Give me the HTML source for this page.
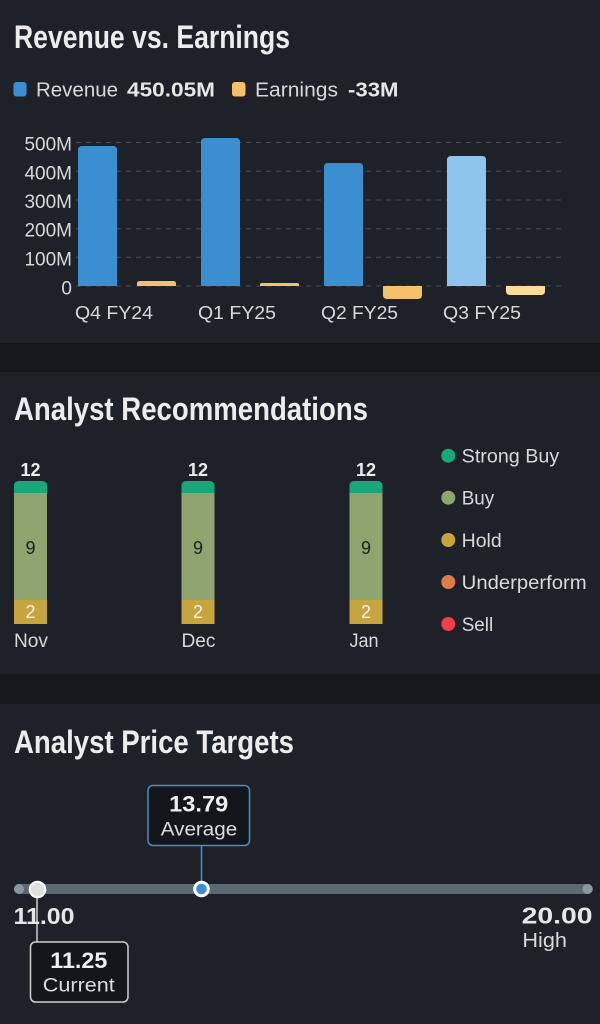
<!DOCTYPE html>
<html><head><meta charset="utf-8"><style>
html,body{margin:0;padding:0;background:#15181d;}
svg{display:block;}
text{font-family:"Liberation Sans",sans-serif;}
</style></head><body>
<svg width="600" height="1024" viewBox="0 0 600 1024" xmlns="http://www.w3.org/2000/svg">
<rect x="0" y="0" width="600" height="1024" fill="#15181d"/>
<rect x="0" y="0" width="600" height="343" fill="#1e2128"/>
<rect x="0" y="372" width="600" height="302" fill="#1e2128"/>
<rect x="0" y="704" width="600" height="320" fill="#1e2128"/>

<!-- Panel 1 -->
<text x="14" y="48" font-size="32" font-weight="bold" fill="#ececec" textLength="276" lengthAdjust="spacingAndGlyphs">Revenue vs. Earnings</text>
<rect x="13.5" y="82" width="13" height="14.5" rx="3" fill="#3b8fd0"/>
<text x="36" y="96.7" font-size="20" fill="#d9d9d9" textLength="82" lengthAdjust="spacingAndGlyphs">Revenue</text>
<text x="127" y="96.7" font-size="20" font-weight="bold" fill="#e6e6e6" textLength="88" lengthAdjust="spacingAndGlyphs">450.05M</text>
<rect x="232" y="82" width="13.5" height="14.5" rx="3" fill="#f4c06a"/>
<text x="255" y="96.7" font-size="20" fill="#d9d9d9" textLength="83" lengthAdjust="spacingAndGlyphs">Earnings</text>
<text x="348" y="96.7" font-size="20" font-weight="bold" fill="#e6e6e6" textLength="50.5" lengthAdjust="spacingAndGlyphs">-33M</text>

<g stroke="#474c55" stroke-width="1" stroke-dasharray="5 5">
<line x1="76" y1="142.5" x2="566" y2="142.5"/>
<line x1="76" y1="171.2" x2="566" y2="171.2"/>
<line x1="76" y1="200" x2="566" y2="200"/>
<line x1="76" y1="228.7" x2="566" y2="228.7"/>
<line x1="76" y1="257.3" x2="566" y2="257.3"/>
<line x1="76" y1="286" x2="566" y2="286"/>
</g>
<g font-size="19" fill="#d9d9d9" text-anchor="end">
<text x="72" y="150.7">500M</text>
<text x="72" y="179.3">400M</text>
<text x="72" y="208">300M</text>
<text x="72" y="236.7">200M</text>
<text x="72" y="265.3">100M</text>
<text x="72" y="294.3">0</text>
</g>

<!-- revenue bars -->
<path d="M78,286 V150 Q78,146 82,146 H113 Q117,146 117,150 V286 Z" fill="#3b8fd0"/>
<path d="M201,286 V142 Q201,138 205,138 H236 Q240,138 240,142 V286 Z" fill="#3b8fd0"/>
<path d="M324,286 V167 Q324,163 328,163 H359 Q363,163 363,167 V286 Z" fill="#3b8fd0"/>
<path d="M447,286 V160 Q447,156 451,156 H482 Q486,156 486,160 V286 Z" fill="#8ec5ec"/>
<!-- earnings bars -->
<path d="M137,286 V283.5 Q137,281 140,281 H173 Q176,281 176,283.5 V286 Z" fill="#f4c06a"/>
<path d="M260,286 V284.5 Q260,283 262,283 H297 Q299,283 299,284.5 V286 Z" fill="#f4c06a"/>
<path d="M383,286 V295 Q383,299 387,299 H418 Q422,299 422,295 V286 Z" fill="#f4c06a"/>
<path d="M506,286 V291 Q506,295 510,295 H541 Q545,295 545,291 V286 Z" fill="#fddb9c"/>

<g font-size="18.5" fill="#d9d9d9">
<text x="75" y="319" textLength="78" lengthAdjust="spacingAndGlyphs">Q4  FY24</text>
<text x="198" y="319" textLength="78" lengthAdjust="spacingAndGlyphs">Q1  FY25</text>
<text x="321" y="319" textLength="77" lengthAdjust="spacingAndGlyphs">Q2  FY25</text>
<text x="443" y="319" textLength="78" lengthAdjust="spacingAndGlyphs">Q3  FY25</text>
</g>

<!-- Panel 2 -->
<text x="14" y="420" font-size="32" font-weight="bold" fill="#ececec" textLength="354" lengthAdjust="spacingAndGlyphs">Analyst Recommendations</text>

<g>
<path d="M14,493 V486 Q14,481 19,481 H42 Q47,481 47,486 V493 Z" fill="#1aa779"/>
<rect x="14" y="493" width="33" height="107" fill="#8fa46f"/>
<rect x="14" y="600" width="33" height="24" fill="#c6a43e"/>
<path d="M181.5,493 V486 Q181.5,481 186.5,481 H209.5 Q214.5,481 214.5,486 V493 Z" fill="#1aa779"/>
<rect x="181.5" y="493" width="33" height="107" fill="#8fa46f"/>
<rect x="181.5" y="600" width="33" height="24" fill="#c6a43e"/>
<path d="M349.5,493 V486 Q349.5,481 354.5,481 H377.5 Q382.5,481 382.5,486 V493 Z" fill="#1aa779"/>
<rect x="349.5" y="493" width="33" height="107" fill="#8fa46f"/>
<rect x="349.5" y="600" width="33" height="24" fill="#c6a43e"/>
</g>
<g font-size="18" text-anchor="middle">
<text x="30.5" y="476" font-weight="bold" fill="#ececec">12</text>
<text x="198" y="476" font-weight="bold" fill="#ececec">12</text>
<text x="366" y="476" font-weight="bold" fill="#ececec">12</text>
<text x="30.5" y="554" fill="#1c1f22">9</text>
<text x="198" y="554" fill="#1c1f22">9</text>
<text x="366" y="554" fill="#1c1f22">9</text>
<text x="30.5" y="618" fill="#f2f2f2">2</text>
<text x="198" y="618" fill="#f2f2f2">2</text>
<text x="366" y="618" fill="#f2f2f2">2</text>
</g>
<g font-size="19" fill="#d9d9d9">
<text x="14" y="647" textLength="34" lengthAdjust="spacingAndGlyphs">Nov</text>
<text x="181.5" y="647" textLength="34" lengthAdjust="spacingAndGlyphs">Dec</text>
<text x="349.5" y="647" textLength="29" lengthAdjust="spacingAndGlyphs">Jan</text>
</g>

<circle cx="448.3" cy="455.7" r="7" fill="#1aa779"/>
<circle cx="448.3" cy="497.7" r="7" fill="#8fa46f"/>
<circle cx="448.3" cy="540" r="7" fill="#c6a43e"/>
<circle cx="448.3" cy="582" r="7" fill="#e07b4c"/>
<circle cx="448.3" cy="624" r="7" fill="#f0404a"/>
<g font-size="19" fill="#d9d9d9">
<text x="461.7" y="462.7" textLength="97.5" lengthAdjust="spacingAndGlyphs">Strong Buy</text>
<text x="461.7" y="504.7" textLength="32.5" lengthAdjust="spacingAndGlyphs">Buy</text>
<text x="461.7" y="547" textLength="40" lengthAdjust="spacingAndGlyphs">Hold</text>
<text x="461.7" y="589" textLength="125" lengthAdjust="spacingAndGlyphs">Underperform</text>
<text x="461.7" y="631" textLength="31.5" lengthAdjust="spacingAndGlyphs">Sell</text>
</g>

<!-- Panel 3 -->
<text x="14" y="753" font-size="32" font-weight="bold" fill="#ececec" textLength="280" lengthAdjust="spacingAndGlyphs">Analyst Price Targets</text>

<rect x="14" y="884" width="579" height="10" rx="5" fill="#5e6873"/>
<circle cx="19" cy="889" r="5" fill="#8d97a1"/>
<circle cx="587.5" cy="889" r="5" fill="#8d97a1"/>

<line x1="201.5" y1="846" x2="201.5" y2="882" stroke="#3b8fd0" stroke-width="1.6"/>
<rect x="148" y="785.5" width="101.5" height="60" rx="5" fill="#13161b" stroke="#4a8cc4" stroke-width="1.5"/>
<text x="198.7" y="811.7" font-size="22" font-weight="bold" fill="#eeeeee" text-anchor="middle" textLength="59" lengthAdjust="spacingAndGlyphs">13.79</text>
<text x="199" y="835.5" font-size="19" fill="#dddddd" text-anchor="middle" textLength="76.5" lengthAdjust="spacingAndGlyphs">Average</text>
<circle cx="201.5" cy="889" r="8.3" fill="#ffffff"/>
<circle cx="201.5" cy="889" r="5.3" fill="#3b8fd0"/>

<line x1="37" y1="897" x2="37" y2="942" stroke="#cfcfcf" stroke-width="1.5"/>
<text x="13.5" y="924" font-size="23" font-weight="bold" fill="#e6e6e6" textLength="61" lengthAdjust="spacingAndGlyphs">11.00</text>
<circle cx="37.5" cy="889.5" r="7.8" fill="#e0e0e0" stroke="#ffffff" stroke-width="2"/>
<rect x="30.5" y="942" width="97.5" height="60" rx="5" fill="#13161b" stroke="#d0d0d0" stroke-width="1.5"/>
<text x="78.8" y="968" font-size="22" font-weight="bold" fill="#eeeeee" text-anchor="middle" textLength="57" lengthAdjust="spacingAndGlyphs">11.25</text>
<text x="78.8" y="991.7" font-size="19" fill="#dddddd" text-anchor="middle" textLength="72" lengthAdjust="spacingAndGlyphs">Current</text>

<text x="521.6" y="923.5" font-size="23" font-weight="bold" fill="#e6e6e6" textLength="71" lengthAdjust="spacingAndGlyphs">20.00</text>
<text x="522.4" y="947" font-size="20" fill="#d9d9d9" textLength="44.6" lengthAdjust="spacingAndGlyphs">High</text>
</svg>
</body></html>
